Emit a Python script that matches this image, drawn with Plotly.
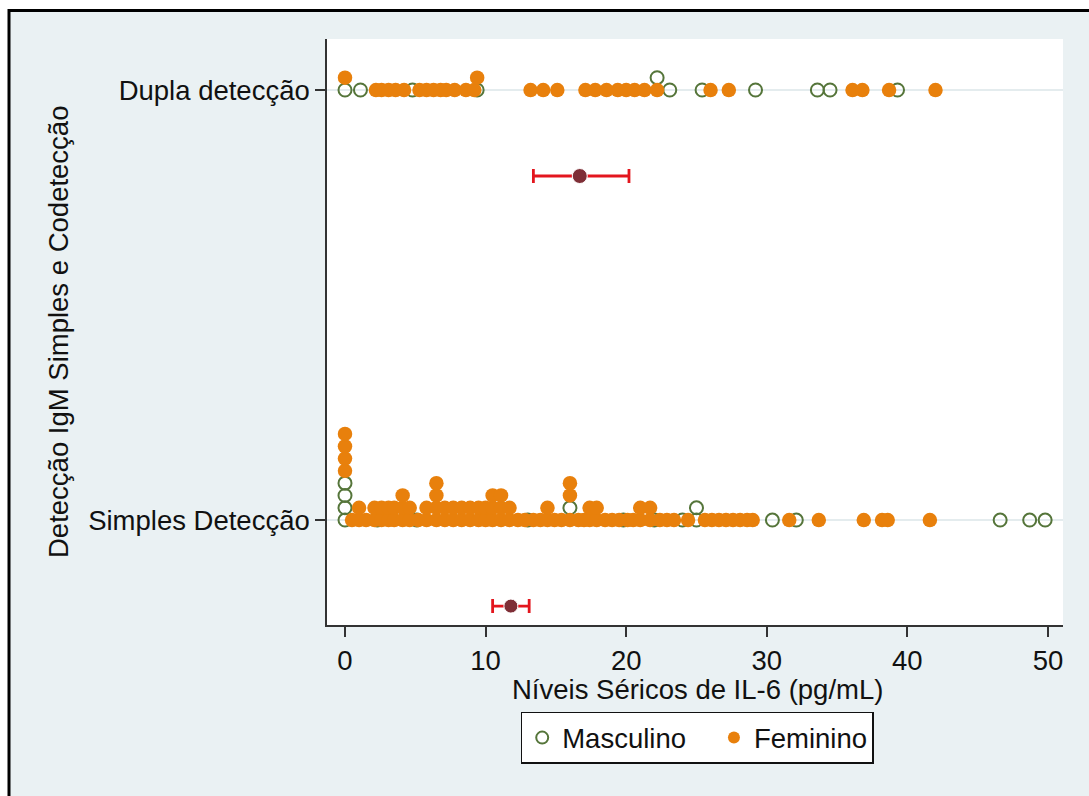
import plotly.graph_objects as go

# Níveis séricos de IL-6 (pg/mL) por observação, em ordem; sexo: "M" = masculino, "F" = feminino
dupla_il6 = [0, 0, 1.1, 2.2, 2.6, 3.1, 3.6, 4.2, 4.8, 5.3, 5.8, 6.3, 6.8, 7.2, 7.8, 8.6,
             9.2, 9.4, 9.4, 13.2, 14.1, 15.1, 17.1, 17.8, 18.6, 19.4, 20.0, 20.6, 21.3,
             22.2, 22.2, 23.1, 25.4, 26.0, 27.3, 29.2, 33.6, 34.5, 36.1, 36.8, 38.7, 39.3, 42.0]
dupla_sexo = ["M", "F", "M", "F", "F", "F", "F", "F", "M", "F", "F", "F", "F", "F", "F", "F",
              "F", "M", "F", "F", "F", "F", "F", "F", "F", "F", "F", "F", "F",
              "F", "M", "M", "M", "F", "F", "M", "M", "M", "F", "F", "F", "M", "F"]

simples_il6 = [0, 0, 0, 0, 0, 0, 0, 0,
               0.5, 1.0, 1.0, 1.5, 2.1, 2.1, 2.3, 2.6, 2.6, 3.1, 3.1, 3.5, 3.5,
               4.1, 4.1, 4.1, 4.6, 4.6, 5.1, 5.2, 5.8, 5.8, 6.5, 6.5, 6.5, 6.5,
               7.1, 7.1, 7.7, 7.7, 8.3, 8.3, 8.9, 8.9, 9.5, 9.5, 10.0, 10.0,
               10.5, 10.5, 10.5, 11.1, 11.1, 11.1, 11.7, 11.7, 12.3, 12.8, 13.0, 13.4,
               13.9, 14.4, 14.4, 14.9, 15.4, 16.0, 16.0, 16.0, 16.0, 16.6, 17.0,
               17.4, 17.4, 17.9, 17.9, 18.5, 19.0, 19.5, 19.8, 20.1, 20.5,
               21.0, 21.0, 21.7, 21.7, 22.0, 22.4, 22.9, 23.4, 24.0, 24.4, 25.0, 25.0,
               25.6, 26.1, 26.6, 27.1, 27.6, 28.1, 28.6, 29.0, 30.4, 31.6, 32.1, 33.7,
               36.9, 38.2, 38.6, 41.6, 46.6, 48.7, 49.8]
simples_sexo = ["M", "M", "M", "M", "F", "F", "F", "F",
                "F", "F", "F", "F", "F", "F", "M", "F", "F", "F", "F", "F", "F",
                "F", "F", "F", "F", "F", "M", "F", "F", "F", "F", "F", "F", "F",
                "F", "F", "F", "F", "F", "F", "F", "F", "F", "F", "F", "F",
                "F", "F", "F", "F", "F", "F", "F", "F", "F", "F", "M", "F",
                "F", "F", "F", "F", "F", "F", "M", "F", "F", "F", "F",
                "F", "F", "F", "F", "F", "F", "F", "M", "F", "F",
                "F", "F", "F", "F", "M", "F", "F", "F", "M", "F", "M", "M",
                "F", "F", "F", "F", "F", "F", "F", "F", "M", "F", "M", "F",
                "F", "F", "F", "F", "M", "M", "M"]

# Média e IC 95% por grupo
grupos = ["Dupla detecção", "Simples Detecção"]
media = [16.7, 11.8]
ic_inf = [13.4, 10.5]
ic_sup = [20.2, 13.1]

# Posições das categorias no eixo y
pos_grupo = {"Dupla detecção": 1.0, "Simples Detecção": 0.0}
desloc_ic = -0.2      # linha da média/IC abaixo de cada grupo
passo_pilha = 0.0286  # empilhamento de valores repetidos

LARANJA = "#E8800C"
VERDE = "#55753A"
FUNDO = "#EAF1F3"


def empilhar(valores, sexos, base):
    """Empilha valores idênticos, na ordem das observações."""
    contagem = {}
    pontos = {"M": ([], []), "F": ([], [])}
    for v, s in zip(valores, sexos):
        k = contagem.get(v, 0)
        contagem[v] = k + 1
        pontos[s][0].append(v)
        pontos[s][1].append(base + k * passo_pilha)
    return pontos


p_dupla = empilhar(dupla_il6, dupla_sexo, pos_grupo["Dupla detecção"])
p_simples = empilhar(simples_il6, simples_sexo, pos_grupo["Simples Detecção"])

fig = go.Figure()

# Masculino (círculo aberto) primeiro, feminino por cima
fig.add_trace(go.Scatter(
    x=p_dupla["M"][0] + p_simples["M"][0],
    y=p_dupla["M"][1] + p_simples["M"][1],
    mode="markers", name="Masculino\u00a0\u00a0\u00a0",
    marker=dict(symbol="circle-open", size=13, color=VERDE, line=dict(width=2, color=VERDE)),
))
fig.add_trace(go.Scatter(
    x=p_dupla["F"][0] + p_simples["F"][0],
    y=p_dupla["F"][1] + p_simples["F"][1],
    mode="markers", name="Feminino",
    marker=dict(symbol="circle", size=14.5, color=LARANJA, line=dict(width=0)),
))

# Média com intervalo de confiança
fig.add_trace(go.Scatter(
    x=media,
    y=[pos_grupo[g] + desloc_ic for g in grupos],
    mode="markers", showlegend=False,
    marker=dict(size=[15, 14], color="#7E2E36", opacity=1),
    error_x=dict(type="data", symmetric=False,
                 array=[s - m for s, m in zip(ic_sup, media)],
                 arrayminus=[m - i for m, i in zip(media, ic_inf)],
                 color="#E3161E", thickness=2.8, width=7),
))

FONTE = dict(family="Liberation Sans, Arial, sans-serif", size=27.5, color="#111111")

fig.update_layout(
    width=1089, height=796,
    margin=dict(l=327, r=26, t=39, b=171),
    paper_bgcolor="white",
    plot_bgcolor="white",
    font=FONTE,
    showlegend=True,
    legend=dict(
        orientation="h", x=0.503, xanchor="center", y=-0.148, yanchor="top",
        bgcolor="white", bordercolor="#111111", borderwidth=1.5,
        font=FONTE, itemsizing="constant", traceorder="normal",
    ),
    xaxis=dict(
        range=[-1.28, 51.07], tickvals=[0, 10, 20, 30, 40, 50],
        showgrid=False, zeroline=False,
        showline=True, linecolor="#333333", linewidth=1.5,
        ticks="outside", ticklen=10, tickwidth=1.5, tickcolor="#333333",
        tickfont=FONTE,
    ),
    yaxis=dict(
        range=[-0.244, 1.1186], tickvals=[0, 1],
        ticktext=["Simples Detecção", "Dupla detecção"],
        showgrid=True, gridcolor="#E4ECEE", gridwidth=2, zeroline=False,
        showline=True, linecolor="#333333", linewidth=1.5,
        ticks="outside", ticklen=10, tickwidth=1.5, tickcolor="#333333",
        tickfont=FONTE,
    ),
    shapes=[
        # moldura externa com fundo cinza-azulado
        dict(type="rect", xref="paper", yref="paper", layer="below",
             x0=(9 - 327) / 736, x1=(1095 - 327) / 736,
             y0=(625 - 805) / 586, y1=(625 - 10.5) / 586,
             fillcolor=FUNDO, line=dict(color="black", width=3)),
        # área de plotagem branca
        dict(type="rect", xref="paper", yref="paper", layer="below",
             x0=0, x1=1, y0=0, y1=1,
             fillcolor="white", line=dict(width=0)),
    ],
    annotations=[
        dict(text="Níveis Séricos de IL-6 (pg/mL)", xref="paper", yref="paper",
             x=0.503, y=(625 - 689) / 586, xanchor="center", yanchor="middle",
             showarrow=False, font=FONTE),
        dict(text="Detecção IgM Simples e Codetecção", xref="paper", yref="paper",
             x=(58 - 327) / 736, y=0.5, xanchor="center", yanchor="middle",
             textangle=-90, showarrow=False, font=FONTE),
    ],
)

fig.write_html("out.html")
